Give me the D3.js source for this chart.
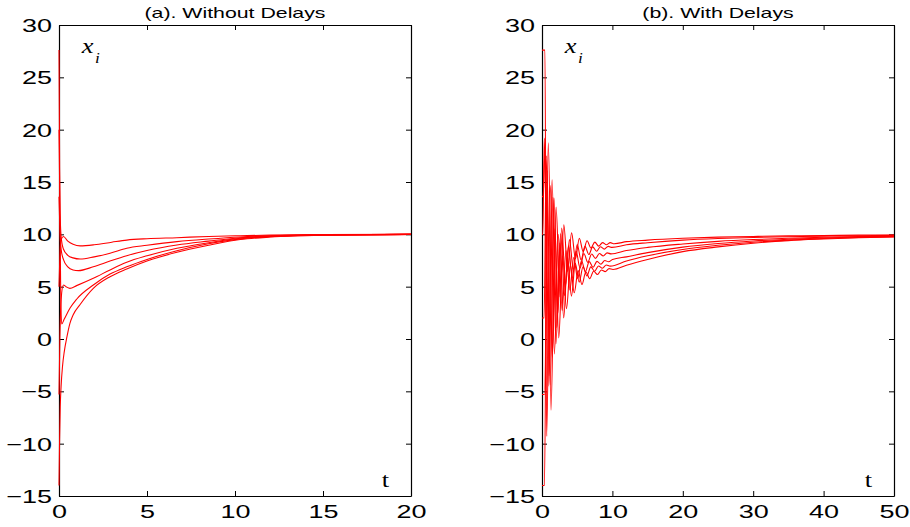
<!DOCTYPE html>
<html><head><meta charset="utf-8">
<script src="https://cdn.jsdelivr.net/npm/d3@7"></script>
<style>body{margin:0;background:#fff}svg{display:block}</style>
</head><body>
<svg id="chart" width="910" height="527"></svg>
<script>
// ---------- data ----------
const yTicks = [-15,-10,-5,0,5,10,15,20,25,30];
const xTicksA = [0,5,10,15,20];
const xTicksB = [0,10,20,30,40,50];
const titleA = "(a). Without Delays";
const titleB = "(b). With Delays";
const stateLabel = "x", stateSub = "i", timeLabel = "t";

// panel (a): samples [t, x_i]
const a1 = [[0,5],[0.05,8],[0.12,9.5],[0.25,9.8],[0.5,9.35],[0.8,9.05],[1.2,8.9],[2,9.0],[3,9.25],[3.85,9.45],[5,9.58],[6.7,9.68],[8.5,9.8],[10.3,9.87],[12,9.92],[15,9.97],[20,10]];
const a2 = [[0,20],[0.05,13],[0.12,9.8],[0.25,8.6],[0.5,8.0],[0.8,7.75],[1.2,7.64],[2,7.85],[2.9,8.2],[3.85,8.67],[5,8.95],[6.7,9.3],[8.5,9.55],[10.3,9.75],[12,9.86],[15,9.95],[20,10]];
const a3 = [[0,13.6],[0.05,10.5],[0.12,8.6],[0.25,7.6],[0.5,6.9],[0.8,6.6],[1.1,6.53],[1.95,6.9],[2.9,7.45],[3.85,7.96],[5,8.45],[6.7,8.98],[8.5,9.35],[10.3,9.68],[12,9.83],[15,9.95],[20,10]];
const a4 = [[0,-5.3],[0.05,0],[0.12,3.8],[0.25,5.16],[0.4,5.0],[0.62,4.84],[1.0,5.1],[1.95,5.8],[2.9,6.6],[3.85,7.33],[5,7.95],[6.7,8.67],[8.5,9.2],[10.3,9.62],[12,9.8],[15,9.94],[20,10]];
const a5 = [[0,27.6],[0.04,15],[0.09,5.5],[0.15,1.43],[0.3,1.9],[0.62,2.93],[1.0,3.8],[1.95,5.16],[2.9,6.2],[3.85,6.9],[5,7.6],[6.7,8.44],[8.5,9.1],[10.3,9.57],[12,9.78],[15,9.93],[20,10]];
const a6 = [[0,-14],[0.03,-10],[0.07,-6.5],[0.12,-4.5],[0.2,-2.6],[0.3,-1.2],[0.45,0.2],[0.62,1.5],[0.8,2.3],[1.2,3.3],[1.95,4.84],[2.9,5.95],[3.85,6.69],[5,7.45],[6.7,8.28],[8.5,8.95],[10.3,9.5],[12,9.74],[15,9.92],[20,10]];

// panel (b): extremes and tail samples [t, x_i]
const b1 = [[0,-5.3],[0.35,-5.3],[0.9,18.75],[1.45,-1.75],[2.0,12.6],[2.55,4.03],[3.1,10.91],[3.65,6.46],[4.2,10.15],[4.75,7.67],[5.3,9.62],[5.85,8.35],[6.4,9.39],[6.95,8.7],[7.5,9.26],[8.05,8.87],[8.6,9.21],[9.15,9.01],[9.7,9.21],[10.25,9.1],[12,9.3],[15,9.45],[20,9.62],[25,9.73],[30,9.8],[35,9.85],[40,9.89],[45,9.92],[50,9.94]];
const b2 = [[0,2],[0.3,2],[0.6,17.5],[1.15,-4.4],[1.7,13.5],[2.25,2.43],[2.8,10.6],[3.35,5.17],[3.9,9.51],[4.45,6.64],[5.0,9.03],[5.55,7.55],[6.1,8.85],[6.65,8.07],[7.2,8.8],[7.75,8.38],[8.3,8.81],[8.85,8.59],[9.4,8.85],[9.95,8.75],[12,9.0],[15,9.2],[20,9.45],[25,9.6],[30,9.7],[35,9.77],[40,9.83],[45,9.87],[50,9.9]];
const b3 = [[0,13.6],[0.15,13.6],[0.45,18.2],[1.0,-3.5],[1.55,13.54],[2.1,1.07],[2.65,10.04],[3.2,4.15],[3.75,8.9],[4.3,5.81],[4.85,8.38],[5.4,6.77],[5.95,8.17],[6.5,7.32],[7.05,8.12],[7.6,7.7],[8.15,8.17],[8.7,7.93],[9.25,8.23],[9.8,8.13],[12,8.45],[15,8.75],[20,9.08],[25,9.33],[30,9.5],[35,9.62],[40,9.72],[45,9.78],[50,9.83]];
const b4 = [[0,27.6],[0.42,27.6],[0.66,-9.3],[1.21,14.66],[1.76,-1.44],[2.31,9.99],[2.86,2.73],[3.41,8.46],[3.96,4.69],[4.51,7.79],[5.06,5.79],[5.61,7.48],[6.16,6.45],[6.71,7.39],[7.26,6.85],[7.81,7.42],[8.36,7.15],[8.91,7.5],[9.46,7.38],[10.01,7.59],[12,7.85],[15,8.25],[20,8.78],[25,9.12],[30,9.36],[35,9.53],[40,9.65],[45,9.74],[50,9.8]];
const b5 = [[0,10],[0.12,10],[0.33,19.2],[0.88,-4.5],[1.43,15.2],[1.98,-0.47],[2.53,9.17],[3.08,2.0],[3.63,7.84],[4.18,4.1],[4.73,7.23],[5.28,5.43],[5.83,6.91],[6.38,6.03],[6.93,6.89],[7.48,6.47],[8.03,6.98],[8.58,6.76],[9.13,7.07],[9.68,6.96],[12,7.45],[15,7.95],[20,8.55],[25,8.95],[30,9.25],[35,9.45],[40,9.6],[45,9.7],[50,9.77]];
const b6 = [[0,-14],[0.35,-14],[0.73,16.1],[1.28,-6.8],[1.83,10.51],[2.38,0.1],[2.93,7.96],[3.48,2.89],[4.03,7.03],[4.58,4.42],[5.13,6.53],[5.68,5.2],[6.23,6.42],[6.78,5.76],[7.33,6.48],[7.88,6.16],[8.43,6.59],[8.98,6.44],[9.53,6.72],[10.08,6.64],[12,7.05],[15,7.6],[20,8.35],[25,8.8],[30,9.15],[35,9.4],[40,9.55],[45,9.67],[50,9.75]];

// ---------- drawing ----------
const svg = d3.select("#chart");
const TOP = 25, BOTTOM = 496;
const SX = 1.42;       // horizontal stretch of sans text in the original
const SERIF_SX = 1.2;  // horizontal stretch of serif text
const sans = "'Liberation Sans', Arial, Helvetica, sans-serif";
const serif = "'Liberation Serif', 'Times New Roman', serif";

function panel(x0, x1, xDomain, xTicks, curves, title) {
  const x = d3.scaleLinear().domain(xDomain).range([x0, x1]);
  const y = d3.scaleLinear().domain([-15, 30]).range([BOTTOM, TOP]);
  const g = svg.append("g");

  const styleAxis = sel => {
    sel.selectAll("path.domain").attr("stroke", "#000").attr("stroke-width", 1.2);
    sel.selectAll(".tick line").attr("stroke", "#000").attr("stroke-width", 1);
  };

  const bottom = g.append("g").attr("transform", `translate(0,${BOTTOM})`)
    .call(d3.axisBottom(x).tickValues(xTicks).tickSize(-5).tickSizeOuter(0));
  const top = g.append("g").attr("transform", `translate(0,${TOP})`)
    .call(d3.axisTop(x).tickValues(xTicks).tickSize(-5).tickSizeOuter(0).tickFormat(""));
  const left = g.append("g").attr("transform", `translate(${x0},0)`)
    .call(d3.axisLeft(y).tickValues(yTicks).tickSize(-5).tickSizeOuter(0));
  const right = g.append("g").attr("transform", `translate(${x1},0)`)
    .call(d3.axisRight(y).tickValues(yTicks).tickSize(-5).tickSizeOuter(0).tickFormat(""));
  [bottom, top, left, right].forEach(styleAxis);

  bottom.selectAll(".tick text")
    .attr("y", 9).attr("dy", "0.71em")
    .attr("transform", `scale(${SX},1)`)
    .style("font-family", sans).style("font-size", "19px").attr("fill", "#000");
  left.selectAll(".tick text")
    .attr("x", -7 / SX).attr("dy", "0.34em")
    .attr("transform", `scale(${SX},1)`)
    .style("font-family", sans).style("font-size", "19px").attr("fill", "#000");

  // title
  g.append("text")
    .attr("transform", `translate(${(x0 + x1) / 2},18) scale(${SX},1)`)
    .attr("text-anchor", "middle")
    .style("font-family", sans).style("font-size", "15px")
    .text(title);

  // x_i label
  const lab = g.append("g").attr("transform", `translate(${x0 + 22.7},52.7) scale(${SERIF_SX},1)`);
  lab.append("text").style("font-family", serif).style("font-style", "italic")
    .style("font-size", "22px").text(stateLabel);
  lab.append("text").attr("x", 11).attr("y", 10).style("font-family", serif)
    .style("font-style", "italic").style("font-size", "14.5px").text(stateSub);

  // t label
  g.append("text")
    .attr("transform", `translate(${x1 - 29.3},486.7) scale(${SERIF_SX},1)`)
    .style("font-family", serif).style("font-size", "22px").text(timeLabel);

  // curves
  const line = d3.line().x(d => x(d[0])).y(d => y(d[1])).curve(d3.curveMonotoneX);
  g.append("g").selectAll("path").data(curves).join("path")
    .attr("d", line).attr("fill", "none").attr("stroke", "#ff0000").attr("stroke-width", 1.1);
}

panel(59, 411, [0, 20], xTicksA, [a1, a2, a3, a4, a5, a6], titleA);
panel(542, 894, [0, 50], xTicksB, [b1, b2, b3, b4, b5, b6], titleB);
</script>
</body></html>
